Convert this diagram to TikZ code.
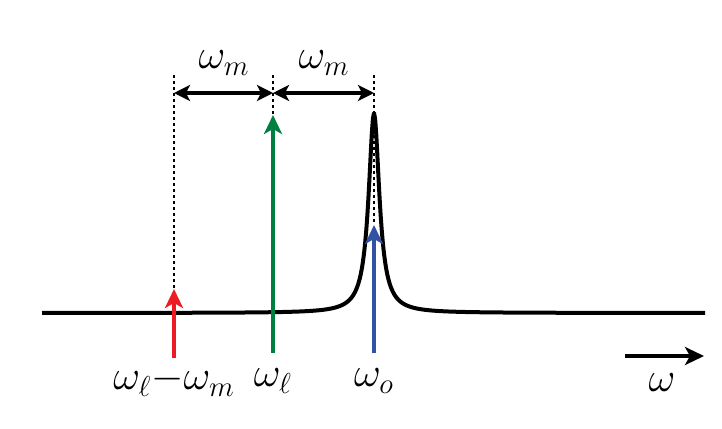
\documentclass[tikz,border=0pt]{standalone}
\usepackage{amsmath}
\usetikzlibrary{arrows.meta}
\definecolor{laserred}{RGB}{237,28,36}
\definecolor{lasergreen}{RGB}{0,128,64}
\definecolor{cavblue}{RGB}{50,82,164}

\begin{document}
\begin{tikzpicture}[x=0.5pt,y=-0.5pt,line join=round,>={Stealth[length=9.5pt,width=9pt,inset=2.5pt]},
  guide/.style={line width=0.8pt,dash pattern=on 1.5pt off 1.5pt},
  sep/.style={line width=1.8pt,{Stealth[length=8pt,width=8pt,inset=2pt]}-{Stealth[length=8pt,width=8pt,inset=2pt]}},
  pump/.style={line width=2.1pt,->},
  lab/.style={font=\huge}]
        \useasboundingbox (0,0) rectangle (722,428);
        % guide lines
        \coordinate (gl) at (174,75);
        \coordinate (gc) at (273,75);
        \coordinate (gr) at (374,75);
        \coordinate (rtip) at (174,289);
        \coordinate (gtip) at (273,115);
        \coordinate (btip) at (374,225);
        \coordinate (rfoot) at (174,358);
        \coordinate (gfoot) at (273,353);
        \coordinate (bfoot) at (374,353);
        \draw[guide] (gl) -- (rtip);
        \draw[guide] (gc) -- (gtip);
        \draw[guide] (gr) -- (btip);
        % spacing arrows
        \coordinate (al) at (174,93);
        \coordinate (ac) at (273,93);
        \coordinate (ar) at (374,93);
        \draw[sep] (al) -- (ac);
        \draw[sep] (ac) -- (ar);
        \node[lab] (wm1) at (224,63) {$\omega_m$};
        \node[lab] (wm2) at (324,63) {$\omega_m$};
        % cavity resonance
        \draw[line width=2pt,domain=42:705,samples=600] plot(\x,{313-200/(1+((\x-374)/6.5)^2)});
        % tones
        \draw[pump,color=laserred] (rfoot) -- (rtip);
        \draw[pump,color=lasergreen] (gfoot) -- (gtip);
        \draw[pump,color=cavblue] (bfoot) -- (btip);
        \node[lab] (wlm) at (174,381) {$\omega_\ell{-}\omega_m$};
        \node[lab] (wl) at (273,381) {$\omega_\ell$};
        \node[lab] (wo) at (374,381) {$\omega_o$};
        % frequency axis
        \coordinate (ax0) at (625,356);
        \coordinate (ax1) at (704,356);
        \draw[line width=2pt,->] (ax0) -- (ax1);
        \node[lab] (w) at (662,383) {$\omega$};
\end{tikzpicture}
\end{document}
